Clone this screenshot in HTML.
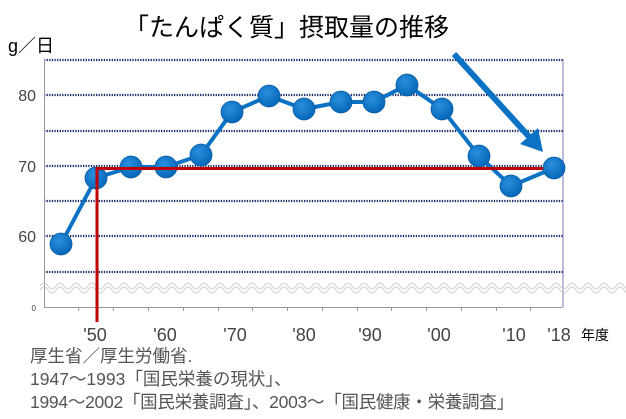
<!DOCTYPE html>
<html><head><meta charset="utf-8"><style>
body{margin:0;background:#fff;width:626px;height:419px;overflow:hidden;font-family:"Liberation Sans","Noto Sans CJK JP",sans-serif}
</style></head><body>
<svg width="626" height="419" viewBox="0 0 626 419" xmlns="http://www.w3.org/2000/svg" style="position:absolute;left:0;top:0">
<defs>
<radialGradient id="g" cx="40%" cy="35%" r="65%"><stop offset="0" stop-color="#2a8fe0"/><stop offset="1" stop-color="#0567b8"/></radialGradient>
</defs>
<text x="124" y="36" font-size="25" fill="#000" font-family="Liberation Sans,Noto Sans CJK JP,sans-serif">「たんぱく質」摂取量の推移</text>
<text x="8" y="52" font-size="18" fill="#000" font-family="Liberation Sans,Noto Sans CJK JP,sans-serif">g／日</text>
<g stroke="#1a2a6a" stroke-width="2.2" stroke-dasharray="1.3 1.3">
<line x1="44" x2="563" y1="60" y2="60"/><line x1="44" x2="563" y1="95" y2="95"/><line x1="44" x2="563" y1="131" y2="131"/><line x1="44" x2="563" y1="166" y2="166"/><line x1="44" x2="563" y1="201" y2="201"/><line x1="44" x2="563" y1="236" y2="236"/><line x1="44" x2="563" y1="272" y2="272"/>
</g>
<line x1="563" y1="59" x2="563" y2="307" stroke="#7a7ab8" stroke-width="1"/>
<line x1="44.5" y1="59" x2="44.5" y2="307" stroke="#999" stroke-width="1"/>
<line x1="44" y1="307.5" x2="563" y2="307.5" stroke="#999" stroke-width="1"/>
<path d="M40 290 q4 -6 8 0 t8 0 t8 0 t8 0 t8 0 t8 0 t8 0 t8 0 t8 0 t8 0 t8 0 t8 0 t8 0 t8 0 t8 0 t8 0 t8 0 t8 0 t8 0 t8 0 t8 0 t8 0 t8 0 t8 0 t8 0 t8 0 t8 0 t8 0 t8 0 t8 0 t8 0 t8 0 t8 0 t8 0 t8 0 t8 0 t8 0 t8 0 t8 0 t8 0 t8 0 t8 0 t8 0 t8 0 t8 0 t8 0 t8 0 t8 0 t8 0 t8 0 t8 0 t8 0 t8 0 t8 0 t8 0 t8 0 t8 0 t8 0 t8 0 t8 0 t8 0 t8 0 t8 0 t8 0 t8 0 t8 0 t8 0 t8 0 t8 0 t8 0 t8 0 t8 0 t8 0 t8 0 t8 0 t8 0 t8 0" fill="none" stroke="#ccc" stroke-width="1"/>
<path d="M40 286 q4 -6 8 0 t8 0 t8 0 t8 0 t8 0 t8 0 t8 0 t8 0 t8 0 t8 0 t8 0 t8 0 t8 0 t8 0 t8 0 t8 0 t8 0 t8 0 t8 0 t8 0 t8 0 t8 0 t8 0 t8 0 t8 0 t8 0 t8 0 t8 0 t8 0 t8 0 t8 0 t8 0 t8 0 t8 0 t8 0 t8 0 t8 0 t8 0 t8 0 t8 0 t8 0 t8 0 t8 0 t8 0 t8 0 t8 0 t8 0 t8 0 t8 0 t8 0 t8 0 t8 0 t8 0 t8 0 t8 0 t8 0 t8 0 t8 0 t8 0 t8 0 t8 0 t8 0 t8 0 t8 0 t8 0 t8 0 t8 0 t8 0 t8 0 t8 0 t8 0 t8 0 t8 0 t8 0 t8 0 t8 0 t8 0 t8 0" fill="none" stroke="#ccc" stroke-width="1"/>
<g stroke="#999" stroke-width="1">
<line x1="78.5" y1="307" x2="78.5" y2="311"/><line x1="113.5" y1="307" x2="113.5" y2="311"/><line x1="148.5" y1="307" x2="148.5" y2="311"/><line x1="183.5" y1="307" x2="183.5" y2="311"/><line x1="218.5" y1="307" x2="218.5" y2="311"/><line x1="252.5" y1="307" x2="252.5" y2="311"/><line x1="287.5" y1="307" x2="287.5" y2="311"/><line x1="322.5" y1="307" x2="322.5" y2="311"/><line x1="357.5" y1="307" x2="357.5" y2="311"/><line x1="391.5" y1="307" x2="391.5" y2="311"/><line x1="426.5" y1="307" x2="426.5" y2="311"/><line x1="461.5" y1="307" x2="461.5" y2="311"/><line x1="496.5" y1="307" x2="496.5" y2="311"/><line x1="530.5" y1="307" x2="530.5" y2="311"/>
</g>
<g font-size="16" fill="#444">
<text x="36" y="101" text-anchor="end">80</text><text x="36" y="172" text-anchor="end">70</text><text x="36" y="242" text-anchor="end">60</text>
<text x="36" y="311" text-anchor="end" font-size="8">0</text>
</g>
<g font-size="18" fill="#444" text-anchor="middle">
<text x="95" y="341">'50</text><text x="165" y="341">'60</text><text x="235" y="341">'70</text><text x="304" y="341">'80</text><text x="370" y="341">'90</text><text x="439" y="341">'00</text><text x="514" y="341">'10</text><text x="559" y="341">'18</text>
</g>
<text x="581" y="340" font-size="14" fill="#000" font-family="Liberation Sans,Noto Sans CJK JP,sans-serif">年度</text>
<polyline points="61,244 96,178 131,167 166,167 201,155 232,112 269,96 304,109 341,102 374,102 407,85 442,109 479,156 511,186 554,168" fill="none" stroke="#0b72c4" stroke-width="4"/>
<g fill="url(#g)" stroke="#0a5ca0" stroke-width="0.8">
<circle cx="61" cy="244" r="11"/><circle cx="96" cy="178" r="11"/><circle cx="131" cy="167" r="11"/><circle cx="166" cy="167" r="11"/><circle cx="201" cy="155" r="11"/><circle cx="232" cy="112" r="11"/><circle cx="269" cy="96" r="11"/><circle cx="304" cy="109" r="11"/><circle cx="341" cy="102" r="11"/><circle cx="374" cy="102" r="11"/><circle cx="407" cy="85" r="11"/><circle cx="442" cy="109" r="11"/><circle cx="479" cy="156" r="11"/><circle cx="511" cy="186" r="11"/><circle cx="554" cy="168" r="11"/>
</g>
<polyline points="97,322 97,168.5 543,168.5" fill="none" stroke="#c00000" stroke-width="3"/>
<line x1="454" y1="54" x2="533" y2="141" stroke="#0b72c4" stroke-width="6"/>
<polygon points="543,152 520,144 538,128" fill="#0b72c4"/>
<g font-size="17.5" fill="#555" font-family="Liberation Sans,Noto Sans CJK JP,sans-serif">
<text x="30" y="362">厚生省／厚生労働省.</text>
<text x="30" y="385">1947～1993「国民栄養の現状」、</text>
<text x="30" y="408" textLength="484">1994～2002「国民栄養調査」、2003～「国民健康・栄養調査」</text>
</g>
</svg>
</body></html>
